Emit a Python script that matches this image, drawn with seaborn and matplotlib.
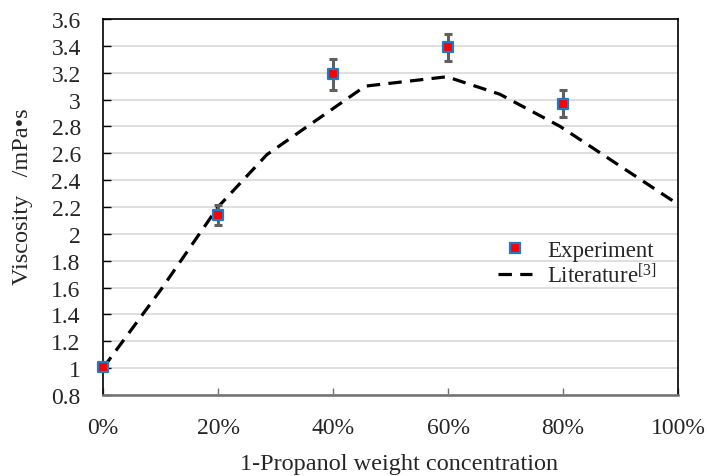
import numpy as np
import pandas as pd
import matplotlib
matplotlib.use("Agg")
import matplotlib.pyplot as plt
import seaborn as sns
from matplotlib.ticker import FuncFormatter, MultipleLocator
from matplotlib.lines import Line2D

# Data
exp_conc = [0.0, 0.2, 0.4, 0.6, 0.8]
exp_visc = [1.01, 2.14, 3.19, 3.39, 2.97]
exp_err = [0.02, 0.075, 0.115, 0.10, 0.10]

lit_conc = [0.0, 0.10, 0.20, 0.285, 0.456, 0.598, 0.69, 0.795, 1.0]
lit_visc = [1.0, 1.58, 2.2, 2.59, 3.10, 3.17, 3.04, 2.80, 2.22]

x_ticks = [0.0, 0.2, 0.4, 0.6, 0.8, 1.0]
x_tick_labels = ["0%", "20%", "40%", "60%", "80%", "100%"]

sns.set_theme(style="white")
plt.rcParams['font.family'] = ['Liberation Serif', 'DejaVu Serif']
plt.rcParams['mathtext.fontset'] = 'custom'
plt.rcParams['mathtext.rm'] = 'Liberation Serif'
plt.rcParams['mathtext.it'] = 'Liberation Serif'

fig = plt.figure(figsize=(7.07, 4.77), dpi=100)
ax = fig.add_axes([0.1457, 0.170, 0.8133, 0.788])

lit_df = pd.DataFrame({"conc": lit_conc, "visc": lit_visc})
exp_df = pd.DataFrame({"conc": exp_conc, "visc": exp_visc})

sns.lineplot(data=lit_df, x="conc", y="visc", ax=ax, color="black",
             linewidth=2.3, dashes=False, zorder=2)
ax.lines[-1].set_dashes([4.2, 2.6])

ax.errorbar(exp_conc, exp_visc, yerr=exp_err, fmt='none', ecolor="#606060",
            elinewidth=2.2, capsize=3.2, capthick=2.2, zorder=3)
sns.scatterplot(data=exp_df, x="conc", y="visc", ax=ax, marker="s", s=55,
                color="#FF0000", edgecolor="#1F7BC8", linewidth=1.6, zorder=4,
                clip_on=False)

ax.set_xlim(0, 1.0)
ax.set_ylim(0.8, 3.6)
ax.set_xticks(x_ticks)
ax.set_xticklabels(x_tick_labels)
ax.yaxis.set_major_locator(MultipleLocator(0.2))
ax.yaxis.set_major_formatter(FuncFormatter(lambda v, p: f"{round(v, 1):g}"))

ax.grid(axis='y', color="#D9D9D9", linewidth=1.2)
ax.grid(axis='x', visible=False)
ax.set_axisbelow(True)

for side in ['top', 'right', 'left']:
    ax.spines[side].set_color("black")
    ax.spines[side].set_linewidth(1.2)
ax.spines['bottom'].set_color("#707070")
ax.spines['bottom'].set_linewidth(1.8)

ax.tick_params(axis='y', direction='in', length=6, width=1.0, color="black",
               labelsize=17, pad=16, left=True)
ax.tick_params(axis='x', direction='in', length=5, width=1.0, color="#707070",
               labelsize=17, pad=16, bottom=True)

ax.set_xlabel("1-Propanol weight concentration", fontsize=17.5)
ax.set_ylabel("Viscosity   /mPa\u2022s", fontsize=17.5)
ax.xaxis.set_label_coords(0.515, -0.155)
ax.yaxis.set_label_coords(-0.122, 0.529)

handles = [
    Line2D([], [], marker='s', linestyle='none', markersize=7.4,
           markerfacecolor="#FF0000", markeredgecolor="#1F7BC8", markeredgewidth=1.6),
    Line2D([], [], color='black', linewidth=2.3, dashes=[4.2, 2.6]),
]
ax.legend(handles, ["Experiment", "Literature$^{[3]}$"], loc='upper left',
          bbox_to_anchor=(0.687, 0.411), frameon=False, fontsize=16.5,
          handlelength=1.5, handletextpad=0.65, labelspacing=0.05,
          borderpad=0, borderaxespad=0)

fig.savefig("out.png", dpi=100)
